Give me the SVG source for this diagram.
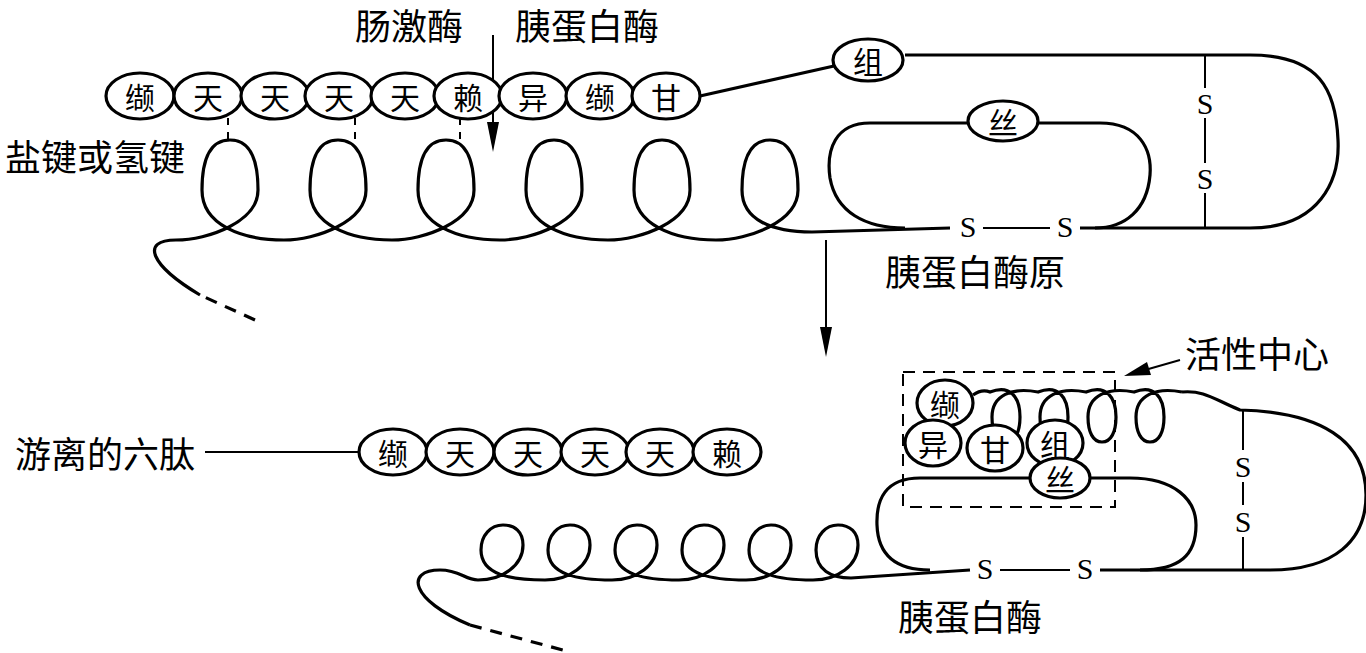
<svg xmlns="http://www.w3.org/2000/svg" width="1366" height="653" viewBox="0 0 1366 653">
<defs>
<style>
.l{fill:none;stroke:#000;stroke-width:3.2}
.t{stroke-width:2}
.d{stroke-dasharray:12 9}
.r{fill:#fff;stroke:#000;stroke-width:3.2}
.h{fill:#000}
.c{font-family:"Noto Sans CJK SC",sans-serif;font-size:30px;text-anchor:middle;dominant-baseline:central}
.b{font-family:"Noto Sans CJK SC",sans-serif;font-size:36px;dominant-baseline:central}
.s{font-family:"Liberation Serif",serif;font-size:30px;text-anchor:middle;dominant-baseline:central}
</style>
</defs>
<rect width="1366" height="653" fill="#fff"/>
<g id="connectors">
<path class="l d" d="M255,320 L200,295"/>
<path class="l" d="M200,295 C150,265 140,240 176,240 c32,0 82,-18 82,-50 c0,-30 -8,-50 -28,-50 c-20,0 -28,20 -28,50 c0,35 40,50 82,50 c32,0 82,-18 82,-50 c0,-30 -8,-50 -28,-50 c-20,0 -28,20 -28,50 c0,35 40,50 82,50 c32,0 82,-18 82,-50 c0,-30 -8,-50 -28,-50 c-20,0 -28,20 -28,50 c0,35 40,50 82,50 c32,0 82,-18 82,-50 c0,-30 -8,-50 -28,-50 c-20,0 -28,20 -28,50 c0,35 40,50 82,50 c32,0 82,-18 82,-50 c0,-30 -8,-50 -28,-50 c-20,0 -28,20 -28,50 c0,35 40,50 82,50 c32,0 82,-18 82,-50 c0,-30 -8,-50 -28,-50 c-20,0 -28,20 -28,50 c0,30 30,42 70,42 L950,228"/>
<path class="l" d="M1100,123 L870,123 C835,123 826,150 830,178 C836,212 865,228 905,228"/>
<path class="l" d="M1080,228 L1250,228 C1320,228 1340,180 1338,140 C1336,90 1320,55 1250,55 L905,55"/>
<path class="l" d="M1100,123 C1140,123 1152,150 1150,175 C1147,210 1125,228 1095,228"/>
<path class="l t" d="M983,228 L1050,228"/>
<path class="l t" d="M1205,55 L1205,88 M1205,118 L1205,163 M1205,193 L1205,228"/>
<path class="l" d="M700,96 L834,66"/>
<path class="l t" d="M228,118 L228,140 M355,118 L355,140 M460,118 L460,140" stroke-dasharray="7 7"/>
<path class="l t" d="M493,35 L493,130"/>
<path class="h" d="M487,122 L493,152 L499,122 Z"/>
<path class="l t" d="M826,240 L826,335"/>
<path class="h" d="M820,327 L826,357 L832,327 Z"/>
<path class="l t" d="M1180,360 L1145,370"/>
<path class="h" d="M1147,362 L1124,376 L1151,375 Z"/>
<path class="l d" d="M470,625 L570,652"/>
<path class="l" d="M470,625 C410,600 405,570 440,570 C460,570 465,580 478,580 c25,0 45,-15 45,-35 c0,-13 -8,-20 -20,-20 c-12,0 -22,10 -22,25 c0,25 30,30 64,30 c25,0 45,-15 45,-35 c0,-13 -8,-20 -20,-20 c-12,0 -22,10 -22,25 c0,25 30,30 64,30 c25,0 45,-15 45,-35 c0,-13 -8,-20 -20,-20 c-12,0 -22,10 -22,25 c0,25 30,30 64,30 c25,0 45,-15 45,-35 c0,-13 -8,-20 -20,-20 c-12,0 -22,10 -22,25 c0,25 30,30 64,30 c25,0 45,-15 45,-35 c0,-13 -8,-20 -20,-20 c-12,0 -22,10 -22,25 c0,25 30,30 64,30 c25,0 45,-15 45,-35 c0,-13 -8,-20 -20,-20 c-12,0 -22,10 -22,25 c0,20 15,28 35,28 L970,570"/>
<path class="l" d="M1130,478 L920,478 C885,478 876,500 877,525 C878,555 895,570 930,570"/>
<path class="l" d="M1130,478 C1175,478 1196,500 1196,525 C1196,555 1180,570 1140,570"/>
<path class="l t" d="M1000,570 L1070,570"/>
<path class="l" d="M1100,570 L1270,570 C1335,570 1366,540 1366,495 C1366,440 1320,412 1240,410 C1215,400 1205,390 1182,392"/>
<path class="l" d="M973,395 C980,390 985,390 990,392 c20,-8 30,5 30,25 c0,15 -5,25 -14,25 c-9,0 -14,-10 -14,-25 c0,-22 20,-30 46,-25 c20,-8 30,5 30,25 c0,15 -5,25 -14,25 c-9,0 -14,-10 -14,-25 c0,-22 20,-30 46,-25 c20,-8 30,5 30,25 c0,15 -5,25 -14,25 c-9,0 -14,-10 -14,-25 c0,-22 20,-30 46,-25 c20,-8 30,5 30,25 c0,15 -5,25 -14,25 c-9,0 -14,-10 -14,-25 c0,-22 20,-30 46,-25"/>
<path class="l t" d="M1243,410 L1243,450 M1243,482 L1243,505 M1243,537 L1243,570"/>
<path class="l t" d="M205,452 L360,452"/>
<rect x="903" y="372" width="212" height="135" class="l t" stroke-dasharray="12 8"/>
</g>
<g id="top-peptide">
<g id="n1"><ellipse class="r" cx="140" cy="96" rx="34" ry="23"/><text class="c" x="140" y="96">缬</text></g>
<g id="n2"><ellipse class="r" cx="208" cy="96" rx="34" ry="23"/><text class="c" x="208" y="96">天</text></g>
<g id="n3"><ellipse class="r" cx="275" cy="96" rx="34" ry="23"/><text class="c" x="275" y="96">天</text></g>
<g id="n4"><ellipse class="r" cx="339" cy="96" rx="34" ry="23"/><text class="c" x="339" y="96">天</text></g>
<g id="n5"><ellipse class="r" cx="405" cy="96" rx="34" ry="23"/><text class="c" x="405" y="96">天</text></g>
<g id="n6"><ellipse class="r" cx="468" cy="96" rx="34" ry="23"/><text class="c" x="468" y="96">赖</text></g>
<g id="n7"><ellipse class="r" cx="533" cy="96" rx="34" ry="23"/><text class="c" x="533" y="96">异</text></g>
<g id="n8"><ellipse class="r" cx="600" cy="96" rx="34" ry="23"/><text class="c" x="600" y="96">缬</text></g>
<g id="n9"><ellipse class="r" cx="666" cy="96" rx="34" ry="23"/><text class="c" x="666" y="96">甘</text></g>
<g id="n10"><ellipse class="r" cx="868" cy="60" rx="35" ry="21"/><text class="c" x="868" y="60">组</text></g>
<g id="n11"><ellipse class="r" cx="1003" cy="121" rx="35" ry="20"/><text class="c" x="1003" y="121">丝</text></g>
</g>
<g id="bottom-peptide">
<g id="h1"><ellipse class="r" cx="393" cy="452" rx="34" ry="23"/><text class="c" x="393" y="452">缬</text></g>
<g id="h2"><ellipse class="r" cx="460" cy="452" rx="34" ry="23"/><text class="c" x="460" y="452">天</text></g>
<g id="h3"><ellipse class="r" cx="528" cy="452" rx="34" ry="23"/><text class="c" x="528" y="452">天</text></g>
<g id="h4"><ellipse class="r" cx="595" cy="452" rx="34" ry="23"/><text class="c" x="595" y="452">天</text></g>
<g id="h5"><ellipse class="r" cx="660" cy="452" rx="34" ry="23"/><text class="c" x="660" y="452">天</text></g>
<g id="h6"><ellipse class="r" cx="727" cy="452" rx="34" ry="23"/><text class="c" x="727" y="452">赖</text></g>
</g>
<g id="active-site">
<g id="a1"><ellipse class="r" cx="945" cy="403" rx="28" ry="23"/><text class="c" x="945" y="403">缬</text></g>
<g id="a2"><ellipse class="r" cx="933" cy="443" rx="28" ry="23"/><text class="c" x="933" y="443">异</text></g>
<g id="a3"><ellipse class="r" cx="995" cy="448" rx="28" ry="23"/><text class="c" x="995" y="448">甘</text></g>
<g id="a4"><ellipse class="r" cx="1055" cy="443" rx="28" ry="23"/><text class="c" x="1055" y="443">组</text></g>
<g id="a5"><ellipse class="r" cx="1060" cy="478" rx="30" ry="20"/><text class="c" x="1060" y="478">丝</text></g>
</g>
<g id="labels">
<text class="s" x="968" y="226">S</text>
<text class="s" x="1065" y="226">S</text>
<text class="s" x="1205" y="103">S</text>
<text class="s" x="1205" y="178">S</text>
<text class="s" x="985" y="568">S</text>
<text class="s" x="1085" y="568">S</text>
<text class="s" x="1243" y="466">S</text>
<text class="s" x="1243" y="521">S</text>
<text class="b" x="355" y="24">肠激酶</text>
<text class="b" x="515" y="24">胰蛋白酶</text>
<text class="b" x="5" y="155">盐键或氢键</text>
<text class="b" x="885" y="270">胰蛋白酶原</text>
<text class="b" x="1185" y="352">活性中心</text>
<text class="b" x="15" y="452">游离的六肽</text>
<text class="b" x="898" y="615">胰蛋白酶</text>
</g>
</svg>
